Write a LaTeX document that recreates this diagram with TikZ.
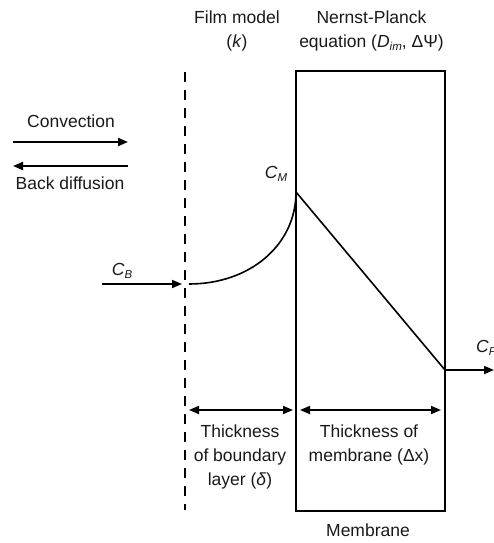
\documentclass[tikz,border=0pt]{standalone}
\usepackage{fontspec}
\setmainfont{Liberation Sans}
\usetikzlibrary{arrows.meta}
\newcommand\lsub[1]{\raisebox{-0.35ex}{\fontsize{11.5}{11.5}\selectfont\itshape #1}}
\begin{document}
\begin{tikzpicture}[x=1pt,y=-1pt,
  lbl/.style={inner sep=0pt, align=center, text=black!90, font=\fontsize{17.5}{24}\selectfont},
  arr/.style={line width=2pt, -{Triangle[length=10pt,width=8pt]}},
  dbl/.style={line width=1.7pt, {Triangle[length=10pt,width=8pt]}-{Triangle[length=10pt,width=8pt]}},
  thin/.style={line width=1.6pt},
  filmline/.style={line width=2.6pt, dash pattern=on 10pt off 8pt}]
\useasboundingbox (0,0) rectangle (494,543);
% texts
\node[lbl] (film) at (237,30.5) {Film model\\(\textit{k})};
\node[lbl] (np) at (371.5,30.5) {Nernst-Planck\\equation (\textit{D}\lsub{im}, ΔΨ)};
\node[lbl] (conv) at (71,121) {Convection};
\node[lbl] (back) at (70,183) {Back diffusion};
\node[lbl] (cbl) at (122,271) {\textit{C}\lsub{B}};
\node[lbl] (cml) at (276,174) {\textit{C}\lsub{M}};
\node[lbl,anchor=west] (cpl) at (476,348) {\textit{C}\lsub{P}};
\node[lbl] (tbl) at (240,457) {Thickness\\of boundary\\layer (\textit{δ})};
\node[lbl] (tml) at (369,445) {Thickness of\\membrane (Δx)};
\node[lbl] (meml) at (368,530) {Membrane};
% membrane
\node[draw, line width=2.2pt, minimum width=149pt, minimum height=440pt, inner sep=0pt] (mem) at (370.5,291) {};
% film line
\coordinate (ftop) at (185,72);
\coordinate (fbot) at (185,510);
\draw[filmline] (ftop) -- (fbot);
% convection arrows
\coordinate (c1) at (13,142);
\coordinate (c2) at (128,142);
\coordinate (b1) at (128,166);
\coordinate (b2) at (13,166);
\draw[arr] (c1) -- (c2);
\draw[arr] (b1) -- (b2);
% concentration profile
\coordinate (cbs) at (102,284);
\coordinate (cbe) at (182,284);
\coordinate (cb) at (189,284);
\coordinate (cm) at (296,192);
\coordinate (cp) at (445,370);
\coordinate (cpe) at (494,370);
\draw[arr, line width=1.7pt] (cbs) -- (cbe);
\draw[thin] (cb) .. controls (250,284) and (296,245) .. (cm);
\draw[thin] (cm) -- (cp);
\draw[arr, line width=1.7pt] (cp) -- (cpe);
% thickness arrows
\coordinate (t1) at (189,410);
\coordinate (t2) at (293,410);
\coordinate (t3) at (300,410);
\coordinate (t4) at (441,410);
\draw[dbl] (t1) -- (t2);
\draw[dbl] (t3) -- (t4);
\end{tikzpicture}
\end{document}
